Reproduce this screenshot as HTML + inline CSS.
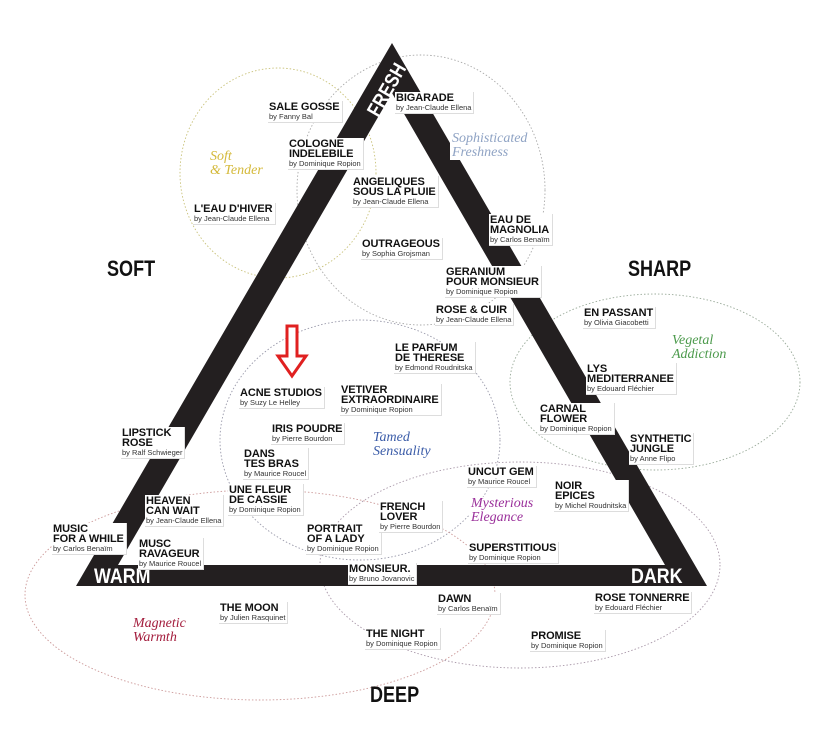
<!DOCTYPE html>
<html><head><meta charset="utf-8"><style>
body{margin:0;background:#fff;}
#w{position:relative;width:826px;height:744px;overflow:hidden;font-family:"Liberation Sans",sans-serif;}
svg{position:absolute;left:0;top:0;}
.l{position:absolute;background:#fff;color:#111;font-weight:bold;font-size:11px;line-height:10px;padding:1px 2px 1px 1px;white-space:nowrap;letter-spacing:-0.1px;border-right:1px solid #ddd;border-bottom:1px solid #ddd}
.l i{display:block;font-style:normal;font-weight:normal;font-size:7.5px;line-height:9px;color:#333;letter-spacing:0}
.c{position:absolute;font-family:"Liberation Serif",serif;font-style:italic;font-size:14px;line-height:14px;background:#fff;padding:0 2px}
.big{position:absolute;font-weight:bold;font-size:22px;color:#111;transform:scaleX(0.82);transform-origin:left top}
</style></head><body><div id="w">
<svg width="826" height="744" viewBox="0 0 826 744">
<g fill="none" stroke-width="0.9" stroke-dasharray="1.5 2">
<ellipse cx="278" cy="173" rx="98" ry="105" stroke="#c9c27a"/>
<ellipse cx="421" cy="190" rx="124" ry="135" stroke="#aaa"/>
<ellipse cx="655" cy="382" rx="145" ry="88" stroke="#9a9"/>
<ellipse cx="360" cy="440" rx="140" ry="120" stroke="#99a"/>
<ellipse cx="520" cy="565" rx="200" ry="103" stroke="#a9a"/>
<ellipse cx="260" cy="595" rx="235" ry="105" stroke="#c99"/>
</g>
<path fill-rule="evenodd" fill="#231f20" d="M392 43 L707 586 L76 586 Z M392 93 L118 565 L665 565 Z"/>
<path d="M287 326 h10 v30 h9 l-14 20 l-14 -20 h9 z" fill="#fff" stroke="#e02020" stroke-width="3"/>
<text x="0" y="0" fill="#fff" font-family="Liberation Sans" font-weight="bold" font-size="20" transform="translate(378,118) rotate(-60) scale(0.85,1)">FRESH</text>
<text x="94" y="583" fill="#fff" font-family="Liberation Sans" font-weight="bold" font-size="21" transform="translate(94,583) scale(0.85,1) translate(-94,-583)">WARM</text>
<text x="631" y="583" fill="#fff" font-family="Liberation Sans" font-weight="bold" font-size="21" transform="translate(631,583) scale(0.85,1) translate(-631,-583)">DARK</text>
</svg>
<div class="big" style="left:107px;top:256px">SOFT</div>
<div class="big" style="left:628px;top:256px">SHARP</div>
<div class="big" style="left:370px;top:682px">DEEP</div>

<div class="c" style="left:208px;top:150px;color:#d4b93a">Soft<br>&amp; Tender</div>
<div class="c" style="left:450px;top:132px;color:#8fa3c4">Sophisticated<br>Freshness</div>
<div class="c" style="left:670px;top:334px;color:#4c9a4c">Vegetal<br>Addiction</div>
<div class="c" style="left:371px;top:431px;color:#3b5ca8">Tamed<br>Sensuality</div>
<div class="c" style="left:469px;top:497px;color:#9a2f9a">Mysterious<br>Elegance</div>
<div class="c" style="left:131px;top:617px;color:#a31c3c">Magnetic<br>Warmth</div>

<div class="l" style="left:268px;top:101px">SALE GOSSE<i>by Fanny Bal</i></div>
<div class="l" style="left:288px;top:138px">COLOGNE<br>INDELEBILE<i>by Dominique Ropion</i></div>
<div class="l" style="left:193px;top:203px">L'EAU D'HIVER<i>by Jean-Claude Ellena</i></div>
<div class="l" style="left:395px;top:92px">BIGARADE<i>by Jean-Claude Ellena</i></div>
<div class="l" style="left:352px;top:176px">ANGELIQUES<br>SOUS LA PLUIE<i>by Jean-Claude Ellena</i></div>
<div class="l" style="left:361px;top:238px">OUTRAGEOUS<i>by Sophia Grojsman</i></div>
<div class="l" style="left:489px;top:214px">EAU DE<br>MAGNOLIA<i>by Carlos Benaïm</i></div>
<div class="l" style="left:445px;top:266px">GERANIUM<br>POUR MONSIEUR<i>by Dominique Ropion</i></div>
<div class="l" style="left:435px;top:304px">ROSE &amp; CUIR<i>by Jean-Claude Ellena</i></div>
<div class="l" style="left:583px;top:307px">EN PASSANT<i>by Olivia Giacobetti</i></div>
<div class="l" style="left:586px;top:363px">LYS<br>MEDITERRANEE<i>by Edouard Fléchier</i></div>
<div class="l" style="left:539px;top:403px">CARNAL<br>FLOWER<i>by Dominique Ropion</i></div>
<div class="l" style="left:629px;top:433px">SYNTHETIC<br>JUNGLE<i>by Anne Flipo</i></div>
<div class="l" style="left:394px;top:342px">LE PARFUM<br>DE THERESE<i>by Edmond Roudnitska</i></div>
<div class="l" style="left:239px;top:387px">ACNE STUDIOS<i>by Suzy Le Helley</i></div>
<div class="l" style="left:340px;top:384px">VETIVER<br>EXTRAORDINAIRE<i>by Dominique Ropion</i></div>
<div class="l" style="left:271px;top:423px">IRIS POUDRE<i>by Pierre Bourdon</i></div>
<div class="l" style="left:243px;top:448px">DANS<br>TES BRAS<i>by Maurice Roucel</i></div>
<div class="l" style="left:228px;top:484px">UNE FLEUR<br>DE CASSIE<i>by Dominique Ropion</i></div>
<div class="l" style="left:121px;top:427px">LIPSTICK<br>ROSE<i>by Ralf Schwieger</i></div>
<div class="l" style="left:145px;top:495px">HEAVEN<br>CAN WAIT<i>by Jean-Claude Ellena</i></div>
<div class="l" style="left:52px;top:523px">MUSIC<br>FOR A WHILE<i>by Carlos Benaïm</i></div>
<div class="l" style="left:138px;top:538px">MUSC<br>RAVAGEUR<i>by Maurice Roucel</i></div>
<div class="l" style="left:306px;top:523px">PORTRAIT<br>OF A LADY<i>by Dominique Ropion</i></div>
<div class="l" style="left:379px;top:501px">FRENCH<br>LOVER<i>by Pierre Bourdon</i></div>
<div class="l" style="left:467px;top:466px">UNCUT GEM<i>by Maurice Roucel</i></div>
<div class="l" style="left:554px;top:480px">NOIR<br>EPICES<i>by Michel Roudnitska</i></div>
<div class="l" style="left:468px;top:542px">SUPERSTITIOUS<i>by Dominique Ropion</i></div>
<div class="l" style="left:348px;top:563px">MONSIEUR.<i>by Bruno Jovanovic</i></div>
<div class="l" style="left:219px;top:602px">THE MOON<i>by Julien Rasquinet</i></div>
<div class="l" style="left:437px;top:593px">DAWN<i>by Carlos Benaïm</i></div>
<div class="l" style="left:594px;top:592px">ROSE TONNERRE<i>by Edouard Fléchier</i></div>
<div class="l" style="left:365px;top:628px">THE NIGHT<i>by Dominique Ropion</i></div>
<div class="l" style="left:530px;top:630px">PROMISE<i>by Dominique Ropion</i></div>
</div></body></html>
